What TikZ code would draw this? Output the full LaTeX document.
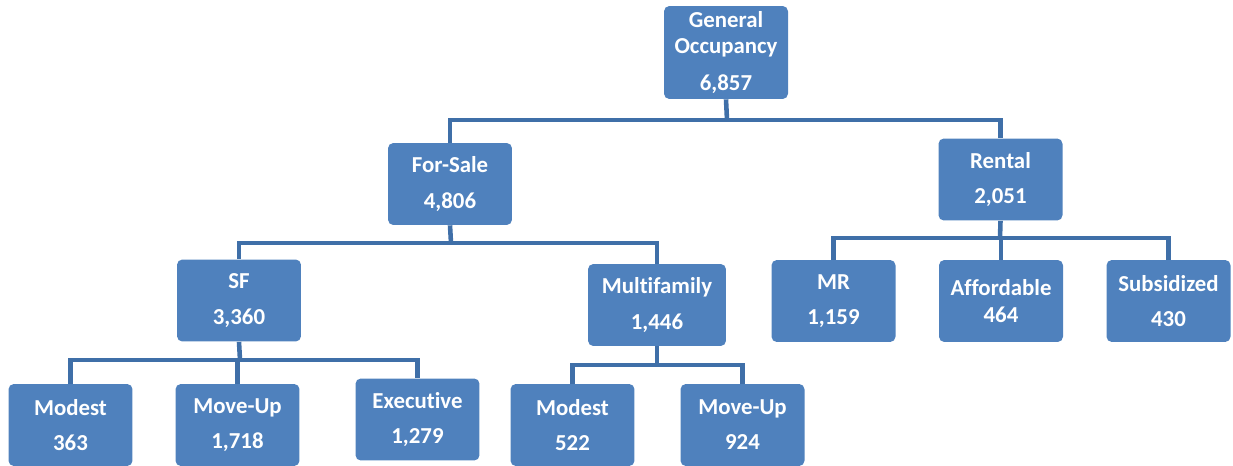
\documentclass[tikz,border=0pt]{standalone}
\usepackage{fontspec}
\setmainfont{Carlito}[Ligatures=NoCommon]
\usepackage{tikz}
\definecolor{boxblue}{HTML}{4F81BD}
\definecolor{lineblue}{HTML}{3F6FA8}

\begin{document}
\begin{tikzpicture}[x=0.02cm, y=-0.02cm,
    unit/.style={rounded corners=3pt, fill=boxblue, text=white, align=center,
        minimum width=2.48cm, minimum height=1.64cm, inner sep=0pt,
        font=\fontsize{13}{15}\selectfont\bfseries},
    link/.style={draw=lineblue, line width=2.6pt}]
    \useasboundingbox (0,0) rectangle (1233,466);

    \node (GO) [unit, minimum height=1.86cm] at (726,52.5) {General\\Occupancy\\[6pt]6,857};
    \node (FS) [unit] at (450,184) {For-Sale\\[5pt]4,806};
    \node (RT) [unit] at (1000.5,179.5) {Rental\\[5pt]2,051};
    \node (SF) [unit] at (239,300.5) {SF\\[5pt]3,360};
    \node (MF) [unit, minimum width=2.76cm] at (657,305) {Multifamily\\[5pt]1,446};
    \node (MR) [unit] at (833.5,301) {MR\\[5pt]1,159};
    \node (AF) [unit] at (1001,301) {Affordable\\464};
    \node (SB) [unit] at (1168.5,301) {Subsidized\\[5pt]430};
    \node (SFM) [unit] at (70.5,425) {Modest\\[5pt]363};
    \node (SFU) [unit] at (237.5,425) {Move-Up\\[5pt]1,718};
    \node (SFE) [unit] at (417.5,419.5) {Executive\\[5pt]1,279};
    \node (MFM) [unit] at (572.5,425) {Modest\\[5pt]522};
    \node (MFU) [unit] at (742.5,425) {Move-Up\\[5pt]924};

    \coordinate (b1) at (727,120);
    \coordinate (b2) at (451,243);
    \coordinate (b3) at (240,360);
    \coordinate (b4) at (657,365);
    \coordinate (b5) at (1000,238);

    \draw[link] (GO.south) -- (b1);
    \draw[link] (b1) -| (FS.north);
    \draw[link] (b1) -| (RT.north);
    \draw[link] (FS.south) -- (b2);
    \draw[link] (b2) -| (SF.north);
    \draw[link] (b2) -| (MF.north);
    \draw[link] (SF.south) -- (b3);
    \draw[link] (b3) -| (SFM.north);
    \draw[link] (b3) -| (SFU.north);
    \draw[link] (b3) -| (SFE.north);
    \draw[link] (MF.south) -- (b4);
    \draw[link] (b4) -| (MFM.north);
    \draw[link] (b4) -| (MFU.north);
    \draw[link] (RT.south) -- (b5);
    \draw[link] (b5) -| (MR.north);
    \draw[link] (b5) -| (AF.north);
    \draw[link] (b5) -| (SB.north);
\end{tikzpicture}
\end{document}
